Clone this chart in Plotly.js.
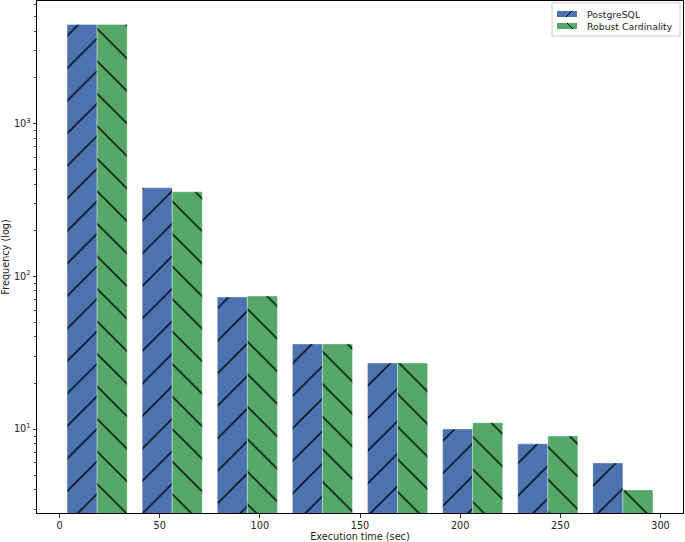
<!DOCTYPE html>
<html>
<head>
<meta charset="utf-8">
<script src="https://cdn.plot.ly/plotly-3.0.1.min.js"></script>
<style>html,body{margin:0;padding:0;background:#fff;}#chart{width:685px;height:542px;}</style>
</head>
<body>
<div id="chart"></div>
<script>
// Bin centers (execution time, sec)
const binCenters = [18.75, 56.25, 93.75, 131.25, 168.75, 206.25, 243.75, 281.25];
const postgresCounts = [4420, 378, 73, 36, 27, 10, 8, 6];
const robustCounts = [4420, 356, 74, 36, 27, 11, 9, 4];
const seriesNames = ["PostgreSQL", "Robust Cardinality"];
const seriesColors = ["#4C72B0", "#55A868"];
const yTickVals = [10, 100, 1000];
const yTickText = ["10<sup>1</sup>", "10<sup>2</sup>", "10<sup>3</sup>"];

const FS = 9.7;
const font = {family: "DejaVu Sans, sans-serif", size: FS, color: "#222"};
const legendFont = {family: "DejaVu Sans, sans-serif", size: 9.3, color: "#222"};

function pattern(shape, color) {
  return {shape: shape, fgcolor: "#000", bgcolor: color, fgopacity: 1, size: 23, solidity: 0.06, fillmode: "overlay"};
}

const traces = [
  {type: "bar", name: seriesNames[0], x: binCenters, y: postgresCounts, showlegend: false,
   marker: {color: seriesColors[0], line: {color: "rgba(255,255,255,0.6)", width: 0.6}, pattern: pattern("/", seriesColors[0])}},
  {type: "bar", name: seriesNames[1], x: binCenters, y: robustCounts, showlegend: false,
   marker: {color: seriesColors[1], line: {color: "rgba(255,255,255,0.6)", width: 0.6}, pattern: pattern("\\", seriesColors[1])}}
];

// Plot area in pixels: left 37, right 683, top 1, bottom 513
const L = 37, R = 683, T = 1, B = 513;
const px = v => (v - L) / (R - L);
const py = v => (B - v) / (B - T);

const shapes = [
  {type: "rect", xref: "paper", yref: "paper", x0: px(552), x1: px(680), y0: py(36), y1: py(3),
   line: {color: "#cccccc", width: 1}, fillcolor: "rgba(255,255,255,0.8)", layer: "above"},
  {type: "rect", xref: "paper", yref: "paper", x0: px(557), x1: px(577), y0: py(17), y1: py(11),
   line: {width: 0}, fillcolor: seriesColors[0], layer: "above"},
  {type: "line", xref: "paper", yref: "paper", x0: px(566), x1: px(572), y0: py(17), y1: py(11),
   line: {color: "#000", width: 1}, layer: "above"},
  {type: "rect", xref: "paper", yref: "paper", x0: px(557), x1: px(577), y0: py(29), y1: py(23),
   line: {width: 0}, fillcolor: seriesColors[1], layer: "above"},
  {type: "line", xref: "paper", yref: "paper", x0: px(567), x1: px(573), y0: py(23), y1: py(29),
   line: {color: "#000", width: 1}, layer: "above"}
];

const annotations = [
  {xref: "paper", yref: "paper", x: px(585), y: py(14), xanchor: "left", yanchor: "middle",
   text: seriesNames[0], showarrow: false, font: legendFont},
  {xref: "paper", yref: "paper", x: px(585), y: py(26.5), xanchor: "left", yanchor: "middle",
   text: seriesNames[1], showarrow: false, font: legendFont}
];

const layout = {
  width: 685, height: 542,
  margin: {l: L, r: 685 - R, t: T, b: 542 - B},
  paper_bgcolor: "#fff", plot_bgcolor: "#fff",
  font: font,
  barmode: "group", bargap: 0.2, bargroupgap: 0,
  showlegend: false,
  shapes: shapes,
  annotations: annotations,
  xaxis: {
    range: [-11.25, 311.25], tickmode: "linear", tick0: 0, dtick: 50,
    showgrid: false, zeroline: false, showline: true, linecolor: "#000", linewidth: 1, mirror: true,
    ticks: "outside", ticklen: 3.5, tickcolor: "#333", tickfont: font,
    title: {text: "Execution time (sec)", font: font, standoff: 4}
  },
  yaxis: {
    type: "log", range: [0.451, 3.799],
    tickmode: "array", tickvals: yTickVals, ticktext: yTickText,
    showgrid: false, zeroline: false, showline: true, linecolor: "#000", linewidth: 1, mirror: true,
    ticks: "outside", ticklen: 3.5, tickcolor: "#333", tickfont: font,
    minor: {ticks: "outside", ticklen: 2, tickcolor: "#333", dtick: "D1", showgrid: false},
    title: {text: "Frequency (log)", font: font, standoff: 4}
  }
};

Plotly.newPlot("chart", traces, layout, {displayModeBar: false, staticPlot: true});
</script>
</body>
</html>
